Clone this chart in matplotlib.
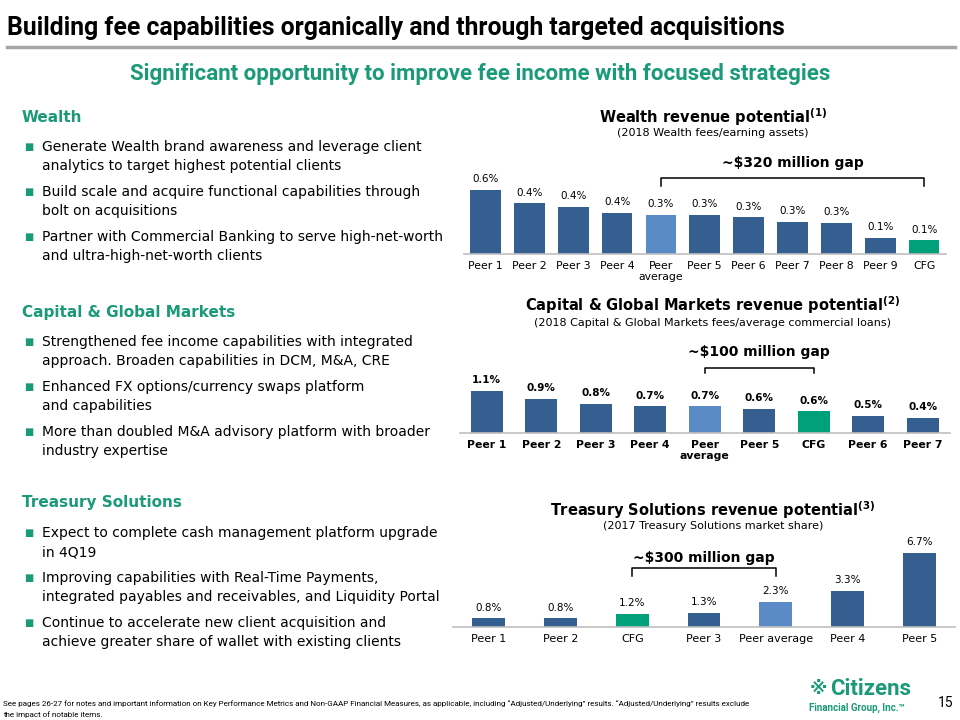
import matplotlib
matplotlib.use("Agg")
import matplotlib.pyplot as plt
from matplotlib.transforms import blended_transform_factory
from matplotlib.lines import Line2D

# ---- data ----
wealth_cats = ["Peer 1", "Peer 2", "Peer 3", "Peer 4", "Peer\naverage", "Peer 5",
               "Peer 6", "Peer 7", "Peer 8", "Peer 9", "CFG"]
wealth_vals = [0.56, 0.44, 0.41, 0.36, 0.34, 0.34, 0.32, 0.28, 0.27, 0.14, 0.12]

cgm_cats = ["Peer 1", "Peer 2", "Peer 3", "Peer 4", "Peer\naverage", "Peer 5",
            "CFG", "Peer 6", "Peer 7"]
cgm_vals = [1.10, 0.90, 0.76, 0.70, 0.70, 0.63, 0.56, 0.45, 0.40]

ts_cats = ["Peer 1", "Peer 2", "CFG", "Peer 3", "Peer average", "Peer 4", "Peer 5"]
ts_vals = [0.8, 0.8, 1.2, 1.3, 2.3, 3.3, 6.7]

DARK = "#365F91"
LIGHT = "#5B8BC6"
GREEN_BAR = "#00A07A"
GREEN = "#1A9A78"
W, H = 960, 720
NARROW = ["Liberation Sans Narrow", "Roboto", "DejaVu Sans"]

fig = plt.figure(figsize=(9.6, 7.2), dpi=100)


def fx(x):
    return x / W


def fy(y):
    return 1 - y / H


def colors_for(cats):
    out = []
    for c in cats:
        if c == "CFG":
            out.append(GREEN_BAR)
        elif c.startswith("Peer") and "average" in c:
            out.append(LIGHT)
        else:
            out.append(DARK)
    return out


def bar_chart(cats, vals, left, right, base, scale, height, width, bold=False, fs=7.8):
    ax = fig.add_axes([fx(left), fy(base), (right - left) / W, height / H])
    x = list(range(len(cats)))
    ax.bar(x, vals, width=width, color=colors_for(cats), zorder=2)
    ax.set_xlim(-0.5, len(cats) - 0.5)
    ax.set_ylim(0, height / scale)
    for s in ["top", "right", "left"]:
        ax.spines[s].set_visible(False)
    ax.spines["bottom"].set_color("#BFBFBF")
    ax.spines["bottom"].set_linewidth(1.2)
    ax.set_yticks([])
    ax.set_xticks(x)
    ax.set_xticklabels(cats, fontsize=fs, fontweight="bold" if bold else "normal",
                       linespacing=1.15, va="top")
    ax.tick_params(axis="x", length=0, pad=5)
    for xi, v in zip(x, vals):
        ax.annotate(f"{v:.1f}%", (xi, v), xytext=(0, 4), textcoords="offset points",
                    ha="center", va="bottom", fontsize=7.5,
                    fontweight="bold" if bold else "normal")
    ax.patch.set_visible(False)
    return ax


def bracket(ax, i0, i1, ytop, ybot, label, ytext):
    tr = blended_transform_factory(ax.transData, fig.transFigure)
    fig.add_artist(Line2D([i0, i0, i1, i1], [fy(ybot), fy(ytop), fy(ytop), fy(ybot)],
                          transform=tr, color="black", lw=1.1))
    xm = (ax.transData.transform((i0, 0))[0] + ax.transData.transform((i1, 0))[0]) / 2
    fig.text(fx(xm), fy(ytext), label, ha="center", va="center",
             fontsize=10, fontweight="bold")


# ---- header ----
fig.text(fx(7), fy(28), "Building fee capabilities organically and through targeted acquisitions",
         fontsize=17.8, fontweight="bold", family=NARROW, va="center", ha="left")
fig.add_artist(Line2D([fx(7), fx(955)], [fy(47), fy(47)], color="#A6A6A6", lw=2.5))
fig.text(0.5, fy(74), "Significant opportunity to improve fee income with focused strategies",
         fontsize=16, fontweight="bold", family=NARROW, color=GREEN, ha="center", va="center")

# ---- left text blocks ----
sections = [
    ("Wealth", 117, [
        ["Generate Wealth brand awareness and leverage client",
         "analytics to target highest potential clients"],
        ["Build scale and acquire functional capabilities through",
         "bolt on acquisitions"],
        ["Partner with Commercial Banking to serve high-net-worth",
         "and ultra-high-net-worth clients"],
    ]),
    ("Capital & Global Markets", 312, [
        ["Strengthened fee income capabilities with integrated",
         "approach. Broaden capabilities in DCM, M&A, CRE"],
        ["Enhanced FX options/currency swaps platform",
         "and capabilities"],
        ["More than doubled M&A advisory platform with broader",
         "industry expertise"],
    ]),
    ("Treasury Solutions", 503, [
        ["Expect to complete cash management platform upgrade",
         "in 4Q19"],
        ["Improving capabilities with Real-Time Payments,",
         "integrated payables and receivables, and Liquidity Portal"],
        ["Continue to accelerate new client acquisition and",
         "achieve greater share of wallet with existing clients"],
    ]),
]
for head, y0, bullets in sections:
    fig.text(fx(22), fy(y0), head, fontsize=11, fontweight="bold", color=GREEN,
             va="center", ha="left")
    y = y0 + 30
    for lines in bullets:
        fig.text(fx(24), fy(y), "■", fontsize=7, color=GREEN, va="center", ha="left")
        for ln in lines:
            fig.text(fx(42), fy(y), ln, fontsize=10, va="center", ha="left")
            y += 19
        y += 7

# ---- wealth chart ----
ax1 = bar_chart(wealth_cats, wealth_vals, 463.6, 946, 254, 115, 80, 0.7)
fig.text(fx(713), fy(117), r"Wealth revenue potential$^{\mathbf{(1)}}$", fontsize=10.5,
         fontweight="bold", ha="center", va="center")
fig.text(fx(713), fy(133), "(2018 Wealth fees/earning assets)", fontsize=8,
         ha="center", va="center")
bracket(ax1, 4, 10, 178, 186, r"~\$320 million gap", 163)

# ---- capital & global markets chart ----
ax2 = bar_chart(cgm_cats, cgm_vals, 459.5, 950, 432.7, 38, 60, 0.59, bold=True)
fig.text(fx(713), fy(305), r"Capital & Global Markets revenue potential$^{\mathbf{(2)}}$",
         fontsize=10.5, fontweight="bold", ha="center", va="center")
fig.text(fx(713), fy(323), "(2018 Capital & Global Markets fees/average commercial loans)",
         fontsize=8, ha="center", va="center")
bracket(ax2, 4, 6, 368, 373, r"~\$100 million gap", 352)

# ---- treasury chart ----
ax3 = bar_chart(ts_cats, ts_vals, 453, 955, 627.3, 11.1, 90, 0.46, fs=8)
fig.text(fx(713), fy(510), r"Treasury Solutions revenue potential$^{\mathbf{(3)}}$",
         fontsize=10.5, fontweight="bold", ha="center", va="center")
fig.text(fx(713), fy(526), "(2017 Treasury Solutions market share)", fontsize=8,
         ha="center", va="center")
bracket(ax3, 2, 4, 568, 576, r"~\$300 million gap", 558)

# ---- footer ----
fig.text(fx(3), fy(704), "See pages 26-27 for notes and important information on Key Performance "
         "Metrics and Non-GAAP Financial Measures, as applicable, including \u201cAdjusted/Underlying\u201d "
         "results. \u201cAdjusted/Underlying\u201d results exclude", fontsize=5.8, family=NARROW,
         va="center", ha="left")
fig.text(fx(3), fy(715), "the impact of notable items.", fontsize=5.8, family=NARROW,
         va="center", ha="left")
fig.text(fx(818), fy(689), "※", fontsize=13, fontweight="bold", color=GREEN, va="center", ha="center")
fig.text(fx(830), fy(689), "Citizens", fontsize=16, fontweight="bold", family=NARROW,
         color=GREEN, va="center", ha="left")
fig.text(fx(905), fy(708), "Financial Group, Inc.\u2122", fontsize=7, fontweight="bold",
         family=NARROW, color=GREEN, va="center", ha="right")
fig.text(fx(946), fy(703), "15", fontsize=10, family=NARROW, va="center", ha="center")

fig.savefig("out.png", dpi=100)
